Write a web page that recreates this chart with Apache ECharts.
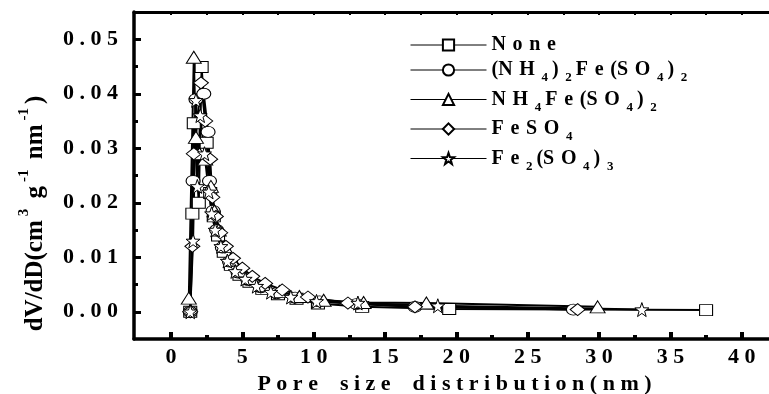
<!DOCTYPE html>
<html>
<head>
<meta charset="utf-8">
<script src="https://cdn.jsdelivr.net/npm/echarts@6/dist/echarts.min.js"></script>
<style>
  html, body { margin: 0; padding: 0; background: #fff; }
  #chart { width: 769px; height: 394px; }
</style>
</head>
<body>
<div id="chart"></div>
<script>
// series names (legend order)
const names = ['None', '(NH4)2Fe(SO4)2', 'NH4Fe(SO4)2', 'FeSO4', 'Fe2(SO4)3'];

// [pore size (nm), dV/dD]
const none = [
  [1.35, 0.0000], [1.5, 0.0180], [1.6, 0.0346], [1.95, 0.0200], [2.15, 0.0449],
  [2.5, 0.0310], [2.75, 0.0218], [3.0, 0.0175], [3.3, 0.0140], [3.7, 0.0110],
  [4.2, 0.0086], [4.8, 0.0068], [5.5, 0.0055], [6.4, 0.0042], [7.5, 0.0032],
  [8.8, 0.0024], [10.3, 0.0015], [13.4, 0.0009], [19.5, 0.0005], [37.5, 0.0003]
];
const nh4_2 = [
  [1.35, 0.0000], [1.55, 0.0240], [1.75, 0.0390], [2.3, 0.0400], [2.6, 0.0330],
  [2.7, 0.0240], [2.95, 0.0185], [3.2, 0.0150], [3.6, 0.0118], [4.1, 0.0092],
  [4.7, 0.0072], [5.4, 0.0058], [6.3, 0.0045], [7.4, 0.0034], [8.7, 0.0026],
  [10.4, 0.0019], [13.0, 0.0014], [17.1, 0.0009], [28.2, 0.0004]
];
const nh4 = [
  [1.25, 0.0025], [1.6, 0.0467], [1.75, 0.0320], [2.0, 0.0290], [2.4, 0.0280],
  [2.8, 0.0230], [3.05, 0.0185], [3.35, 0.0150], [3.75, 0.0120], [4.25, 0.0095],
  [4.9, 0.0075], [5.6, 0.0061], [6.5, 0.0048], [7.6, 0.0037], [9.0, 0.0028],
  [10.7, 0.0021], [13.5, 0.0017], [17.9, 0.0016], [29.9, 0.0009]
];
const feso4 = [
  [1.35, 0.0000], [1.5, 0.0120], [1.6, 0.0290], [2.1, 0.0420], [2.4, 0.0350],
  [2.75, 0.0280], [2.9, 0.0210], [3.15, 0.0175], [3.45, 0.0145], [3.85, 0.0120],
  [4.35, 0.0098], [5.0, 0.0080], [5.7, 0.0065], [6.6, 0.0052], [7.8, 0.0040],
  [9.6, 0.0027], [12.4, 0.0016], [17.1, 0.0009], [28.5, 0.0004]
];
const fe2 = [
  [1.35, 0.0000], [1.55, 0.0130], [1.75, 0.0388], [1.85, 0.0230], [2.05, 0.0360],
  [2.35, 0.0290], [2.65, 0.0220], [2.85, 0.0180], [3.1, 0.0150], [3.5, 0.0120],
  [3.95, 0.0093], [4.5, 0.0074], [5.2, 0.0060], [6.0, 0.0047], [7.0, 0.0036],
  [8.4, 0.0027], [10.2, 0.0019], [13.1, 0.0016], [18.7, 0.0011], [33.0, 0.0004]
];

// ticks
const xMajor = [0, 5, 10, 15, 20, 25, 30, 35, 40];
const xMinor = [2.5, 7.5, 12.5, 17.5, 22.5, 27.5, 32.5, 37.5];
const yMajor = [0, 0.01, 0.02, 0.03, 0.04, 0.05];
const yMinor = [0.005, 0.015, 0.025, 0.035, 0.045];

const FONT = 'Liberation Serif';
const star = 'path://M50 0 L61.8 33.8 L97.6 34.5 L69 56.2 L79.4 90.5 L50 70 L20.6 90.5 L31 56.2 L2.4 34.5 L38.2 33.8 Z';
const symbols = ['rect', 'circle', 'triangle', 'diamond', star];
const sizes = [[13, 11], [14, 11], [15, 12], [15, 12], [14, 14]];
const datas = [none, nh4_2, nh4, feso4, fe2];

const XMIN = -2.59, XMAX = 42.33, YMIN = -0.005, YMAX = 0.055;

// digits become subscripts, every glyph spread out
const SP = '\u2004';
function legendText(name) {
  let out = '';
  for (let i = 0; i < name.length; i++) {
    const c = name[i];
    const last = i === name.length - 1;
    if (/[0-9]/.test(c)) out += '{s|' + c + '}' + (last ? '' : '{t|\u2009}');
    else out += '{t|' + c + (last || c === '(' ? '' : SP) + '}';
  }
  return out;
}
const spaced = s => s.split('').join(' ');

const chart = echarts.init(document.getElementById('chart'));

chart.setOption({
  animation: false,
  backgroundColor: '#fff',
  grid: [
    { left: 134, right: -6, top: 12, bottom: 55, outerBoundsMode: 'none' },
    { left: 134, right: -6, top: 12, bottom: 55, outerBoundsMode: 'none' }
  ],
  legend: {
    orient: 'vertical',
    left: 405,
    top: 30,
    itemWidth: 76,
    itemHeight: 14,
    itemGap: 5,
    data: names,
    lineStyle: { width: 1 },
    formatter: legendText,
    textStyle: {
      rich: {
        t: { fontFamily: FONT, fontWeight: 'bold', fontSize: 20, color: '#000', lineHeight: 20 },
        s: { fontFamily: FONT, fontWeight: 'bold', fontSize: 13, color: '#000', verticalAlign: 'bottom', padding: [16, 0, 0, 0] }
      }
    }
  },
  xAxis: [
    {
      type: 'value', gridIndex: 0, position: 'bottom', min: XMIN, max: XMAX,
      splitLine: { show: false },
      axisLine: { show: true, onZero: false, lineStyle: { color: '#000', width: 3.5 } },
      axisTick: { show: true, inside: true, length: 7, customValues: xMajor, lineStyle: { color: '#000', width: 4 } },
      axisLabel: {
        customValues: xMajor, margin: 7, color: '#000',
        fontFamily: FONT, fontWeight: 'bold', fontSize: 22,
        formatter: v => spaced(String(v))
      },
      name: spaced('Pore size distribution(nm)').replace(/  /g, '   '),
      nameLocation: 'middle', nameGap: 26,
      nameTextStyle: { fontFamily: FONT, fontWeight: 'bold', fontSize: 22, color: '#000' }
    },
    {
      type: 'value', gridIndex: 0, position: 'top', min: XMIN, max: XMAX,
      splitLine: { show: false },
      axisLine: { show: true, onZero: false, lineStyle: { color: '#000', width: 3 } },
      axisTick: { show: true, inside: true, length: 3, customValues: xMajor.concat(xMinor), lineStyle: { color: '#000', width: 2 } },
      axisLabel: { show: false }
    },
    {
      type: 'value', gridIndex: 1, position: 'bottom', min: XMIN, max: XMAX,
      splitLine: { show: false },
      axisLine: { show: false, onZero: false },
      axisTick: { show: true, inside: true, length: 4, customValues: xMinor, lineStyle: { color: '#000', width: 4 } },
      axisLabel: { show: false }
    }
  ],
  yAxis: [
    {
      type: 'value', gridIndex: 0, position: 'left', min: YMIN, max: YMAX,
      splitLine: { show: false },
      axisLine: { show: true, onZero: false, lineStyle: { color: '#000', width: 3.5 } },
      axisTick: { show: true, inside: true, length: 7, customValues: yMajor, lineStyle: { color: '#000', width: 3 } },
      axisLabel: {
        customValues: yMajor, margin: 16, color: '#000',
        fontFamily: FONT, fontWeight: 'bold', fontSize: 22,
        formatter: v => spaced(v.toFixed(2))
      },
      name: '{b|dV/dD(cm}{p|3}{b| g}{p|-1}{b| nm}{p|-1}{b|)}',
      nameLocation: 'middle', nameGap: 86, nameRotate: 90,
      nameTextStyle: {
        padding: [0, 76, 0, 0],
        rich: {
          b: { fontFamily: FONT, fontWeight: 'bold', fontSize: 25, color: '#000', lineHeight: 24, verticalAlign: 'bottom' },
          p: { fontFamily: FONT, fontWeight: 'bold', fontSize: 15, color: '#000', verticalAlign: 'top', padding: [0, 4, 16, 4] }
        }
      }
    },
    {
      type: 'value', gridIndex: 1, position: 'left', min: YMIN, max: YMAX,
      splitLine: { show: false },
      axisLine: { show: false, onZero: false },
      axisTick: { show: true, inside: true, length: 4, customValues: yMinor, lineStyle: { color: '#000', width: 3 } },
      axisLabel: { show: false }
    }
  ],
  series: names.map((n, i) => ({
    name: n,
    type: 'line',
    xAxisIndex: 0,
    yAxisIndex: 0,
    data: datas[i],
    symbol: symbols[i],
    symbolSize: sizes[i],
    showAllSymbol: true,
    lineStyle: { color: '#000', width: 2 },
    itemStyle: { color: '#fff', borderColor: '#000', borderWidth: 1 },
    emphasis: { disabled: true }
  }))
});
</script>
</body>
</html>
